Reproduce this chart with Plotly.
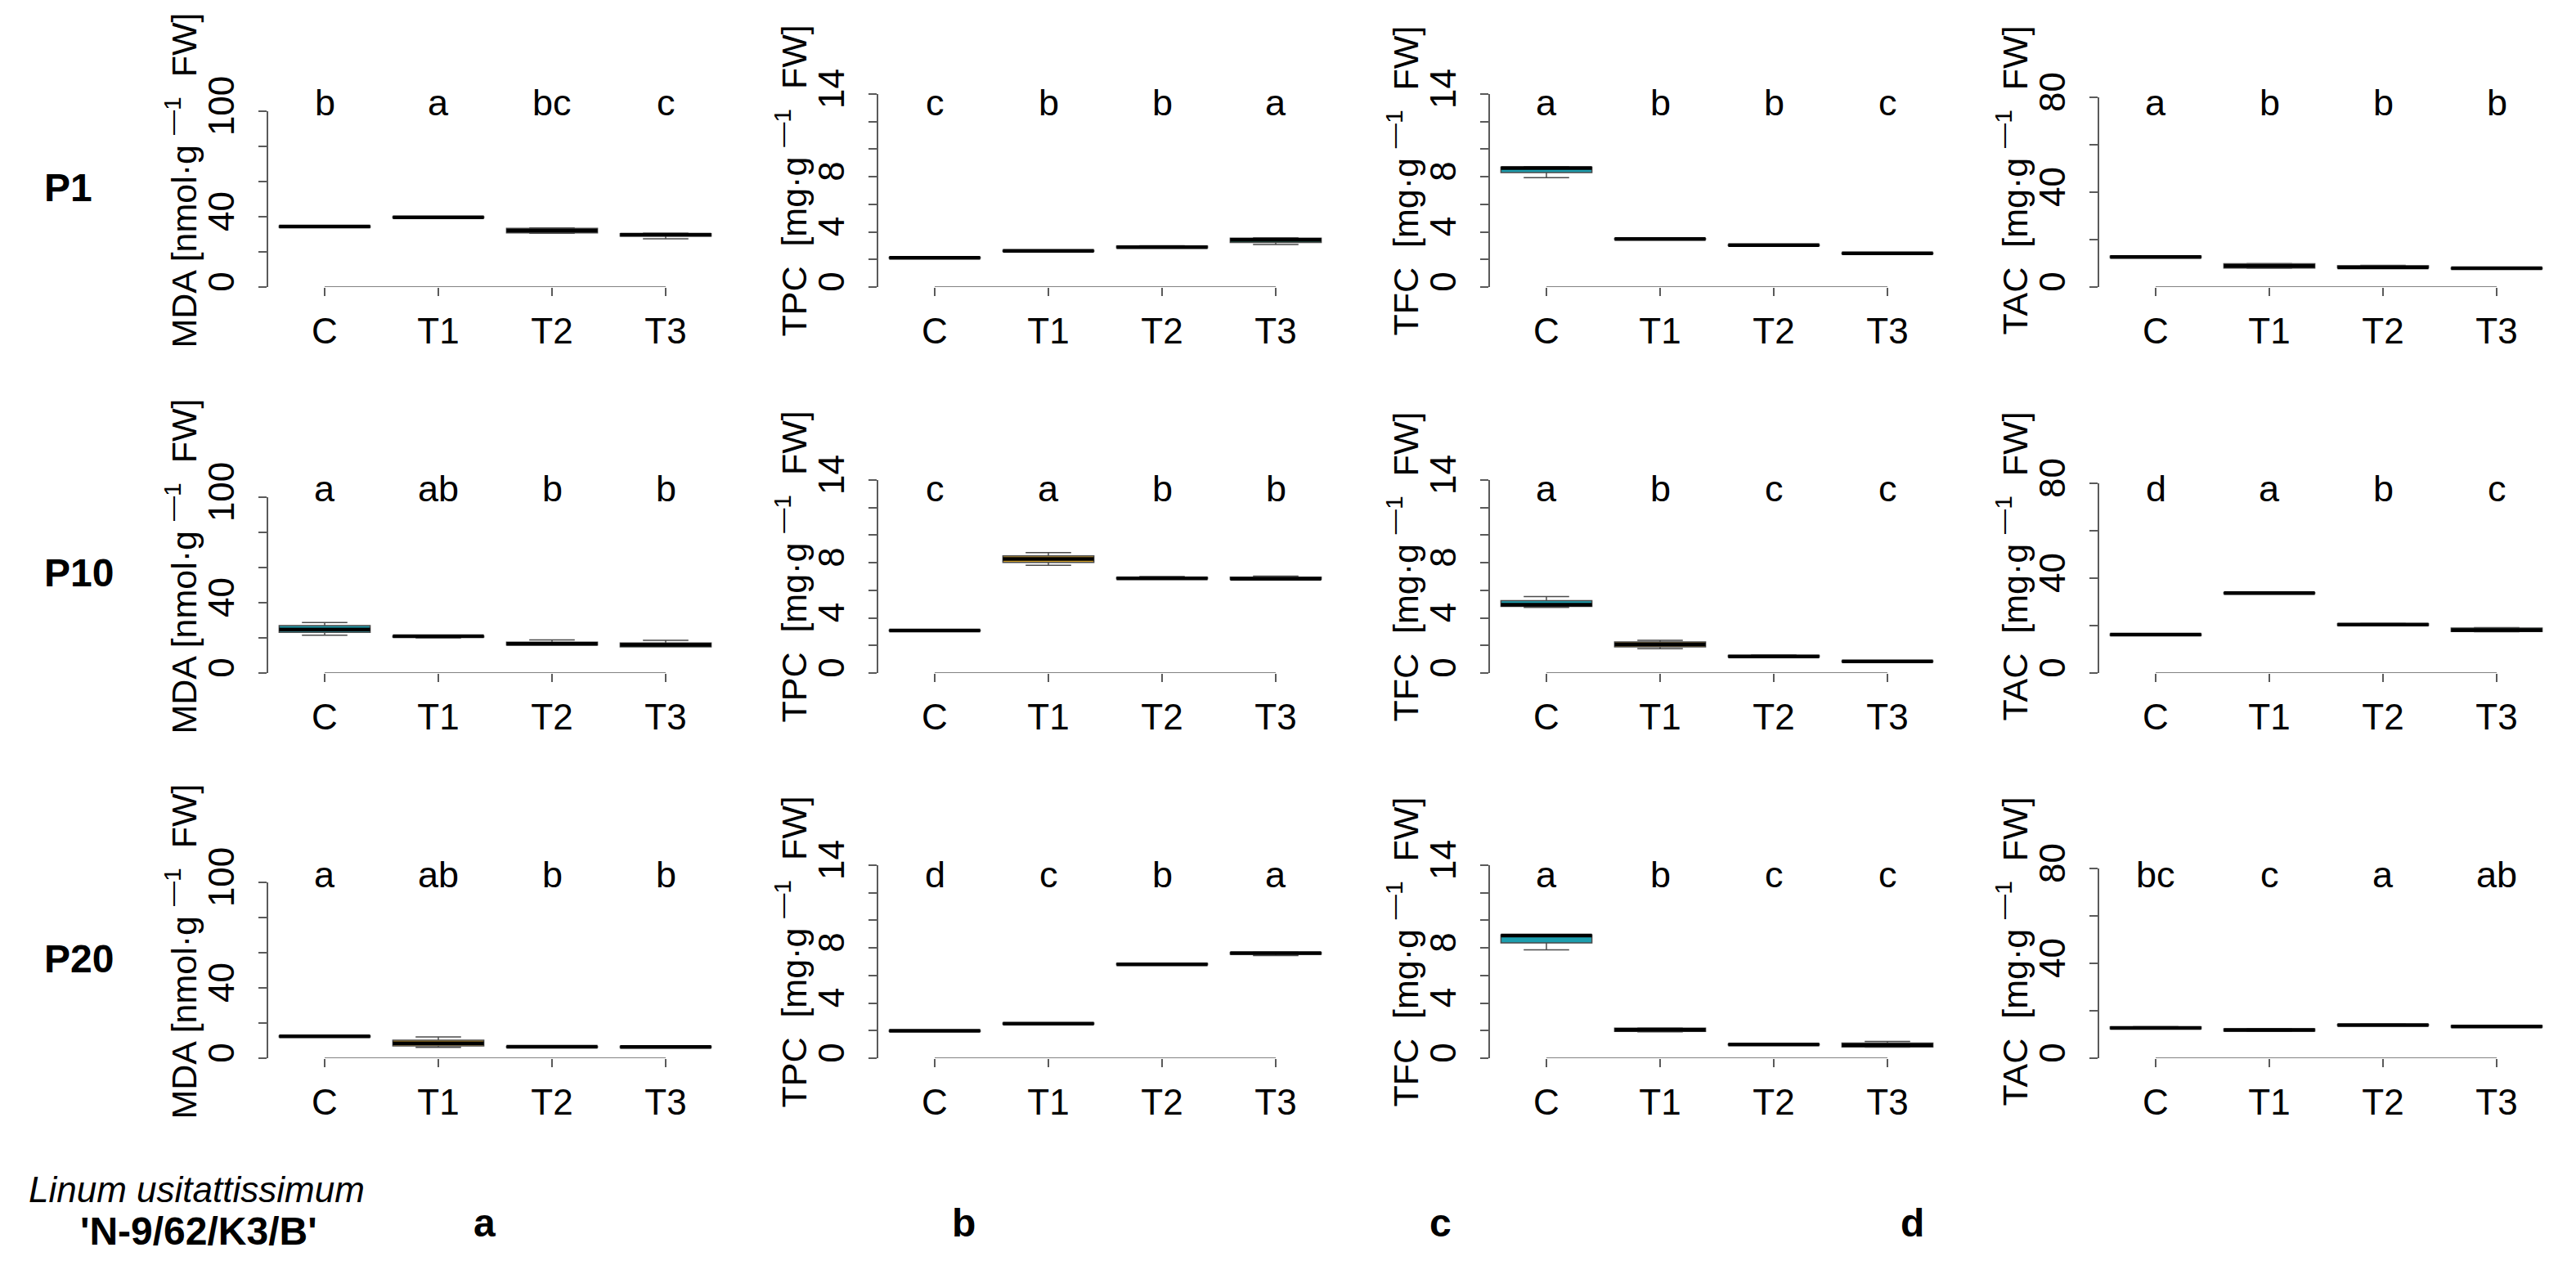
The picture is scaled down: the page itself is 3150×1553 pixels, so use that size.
import plotly.graph_objects as go

# groups / rows / traits
groups = ['C', 'T1', 'T2', 'T3']
rows = ['P1', 'P10', 'P20']
traits = ['MDA', 'TPC', 'TFC', 'TAC']

# MDA [nmol g-1 FW]
mda_med = [[34.4, 39.7, 32.1, 29.8], [24.8, 20.9, 16.6, 16.0], [12.4, 8.5, 6.5, 6.4]]
mda_q1 = [[34.0, 39.4, 30.8, 29.0], [23.1, 20.5, 15.9, 14.9], [12.1, 7.0, 6.2, 6.0]]
mda_q3 = [[34.8, 40.0, 33.4, 30.4], [27.0, 21.1, 17.6, 17.1], [12.7, 10.2, 6.8, 6.8]]
mda_lo = [[33.9, 39.3, 30.6, 27.4], [21.5, 20.0, 15.9, 14.9], [12.0, 6.2, 6.1, 5.9]]
mda_hi = [[34.9, 40.1, 33.6, 30.6], [28.7, 21.2, 18.8, 18.6], [12.8, 12.1, 6.9, 6.9]]

# TPC [mg g-1 FW]
tpc_med = [[2.12, 2.63, 2.89, 3.42], [3.08, 8.27, 6.86, 6.84], [1.98, 2.51, 6.81, 7.62]]
tpc_q1 = [[2.09, 2.60, 2.85, 3.24], [3.05, 8.02, 6.83, 6.80], [1.95, 2.48, 6.78, 7.55]]
tpc_q3 = [[2.15, 2.66, 2.96, 3.54], [3.11, 8.50, 6.92, 6.95], [2.01, 2.55, 6.86, 7.66]]
tpc_lo = [[2.08, 2.59, 2.83, 3.08], [3.04, 7.82, 6.82, 6.78], [1.94, 2.47, 6.77, 7.45]]
tpc_hi = [[2.16, 2.67, 3.00, 3.58], [3.12, 8.74, 7.00, 7.03], [2.02, 2.56, 6.90, 7.68]]

# TFC [mg g-1 FW]
tfc_med = [[8.63, 3.49, 3.04, 2.44], [4.95, 2.07, 1.20, 0.85], [8.90, 2.06, 0.99, 0.95]]
tfc_q1 = [[8.30, 3.46, 3.01, 2.41], [4.84, 1.90, 1.17, 0.83], [8.36, 1.95, 0.96, 0.81]]
tfc_q3 = [[8.69, 3.52, 3.07, 2.47], [5.25, 2.25, 1.27, 0.88], [8.95, 2.18, 1.02, 1.10]]
tfc_lo = [[7.94, 3.45, 3.00, 2.40], [4.76, 1.77, 1.15, 0.82], [7.86, 1.92, 0.95, 0.80]]
tfc_hi = [[8.72, 3.53, 3.08, 2.48], [5.55, 2.37, 1.30, 0.89], [8.97, 2.20, 1.03, 1.22]]

# TAC [mg g-1 FW]
tac_med = [[12.7, 8.9, 8.3, 7.9], [16.2, 33.7, 20.4, 18.1], [12.8, 11.9, 14.0, 13.4]]
tac_q1 = [[12.4, 8.0, 8.1, 7.7], [15.9, 33.5, 20.1, 17.5], [12.4, 11.5, 13.8, 13.1]]
tac_q3 = [[13.0, 9.8, 9.0, 8.1], [16.5, 33.9, 20.8, 19.0], [13.2, 12.3, 14.2, 13.7]]
tac_lo = [[12.3, 7.9, 8.0, 7.6], [15.8, 33.4, 20.0, 17.4], [12.3, 11.4, 13.7, 13.0]]
tac_hi = [[13.1, 9.9, 9.1, 8.2], [16.6, 34.0, 20.9, 19.1], [13.3, 12.4, 14.3, 13.8]]

# significance letters
mda_letters = [['b', 'a', 'bc', 'c'], ['a', 'ab', 'b', 'b'], ['a', 'ab', 'b', 'b']]
tpc_letters = [['c', 'b', 'b', 'a'], ['c', 'a', 'b', 'b'], ['d', 'c', 'b', 'a']]
tfc_letters = [['a', 'b', 'b', 'c'], ['a', 'b', 'c', 'c'], ['a', 'b', 'c', 'c']]
tac_letters = [['a', 'b', 'b', 'b'], ['d', 'a', 'b', 'c'], ['bc', 'c', 'a', 'ab']]

# y axis ticks
mda_ticks = [0, 20, 40, 60, 80, 100]
mda_ticktext = ['0', '', '40', '', '', '100']
mg_ticks = [0, 2, 4, 6, 8, 10, 12, 14]
mg_ticktext = ['0', '', '4', '', '8', '', '', '14']
tac_ticks = [0, 20, 40, 60, 80]
tac_ticktext = ['0', '', '40', '', '80']

ytitles = ['MDA [nmol·g <sup>—1</sup>  FW]', 'TPC  [mg·g <sup>—1</sup>  FW]',
           'TFC  [mg·g <sup>—1</sup>  FW]', 'TAC  [mg·g <sup>—1</sup>  FW]']
panel_tags = ['a', 'b', 'c', 'd']

colors = {'C': '#1d9eae', 'T1': '#d4a22a', 'T2': '#7a2e2a', 'T3': '#2e8b6e'}

stats = {
    'MDA': (mda_med, mda_q1, mda_q3, mda_lo, mda_hi, mda_letters, mda_ticks, mda_ticktext),
    'TPC': (tpc_med, tpc_q1, tpc_q3, tpc_lo, tpc_hi, tpc_letters, mg_ticks, mg_ticktext),
    'TFC': (tfc_med, tfc_q1, tfc_q3, tfc_lo, tfc_hi, tfc_letters, mg_ticks, mg_ticktext),
    'TAC': (tac_med, tac_q1, tac_q3, tac_lo, tac_hi, tac_letters, tac_ticks, tac_ticktext),
}

W, H = 3150, 1553
FONT = 'Liberation Sans, Arial, sans-serif'
AX = '#5a5a5a'

# layout in pixels
col_c = [389, 1135, 1883, 2628]     # x of first category
unit = 139                          # px between categories
row_zero = [343, 815, 1286]         # y of value 0
axis_h = {'MDA': 215, 'TPC': 236, 'TFC': 236, 'TAC': 232}


def px(x):
    return x / W


def py(y):
    return 1 - y / H


def label(x, y, text, size=44, angle=0, xanchor='center'):
    return dict(x=px(x), y=py(y), xref='paper', yref='paper', text=text, textangle=angle,
                xanchor=xanchor, yanchor='middle', showarrow=False, font=dict(size=size))


fig = go.Figure()
layout = dict(width=W, height=H, margin=dict(l=0, r=0, t=0, b=0, autoexpand=False),
              paper_bgcolor='white', plot_bgcolor='white', showlegend=False,
              boxmode='overlay', font=dict(family=FONT, size=44, color='black'))
annotations = []
shapes = []

for r, row in enumerate(rows):
    for c, tr in enumerate(traits):
        k = r * 4 + c + 1
        sx = '' if k == 1 else str(k)
        med, q1, q3, lo, hi, letters, ticks, ticktext = stats[tr]
        top = ticks[-1]

        for i, g in enumerate(groups):
            fig.add_trace(go.Box(x=[g], q1=[q1[r][i]], median=[med[r][i]], q3=[q3[r][i]],
                                 lowerfence=[lo[r][i]], upperfence=[hi[r][i]],
                                 width=0.8, whiskerwidth=0.5, fillcolor=colors[g],
                                 line=dict(color='#4a4a4a', width=1.5), boxpoints=False,
                                 xaxis='x' + sx, yaxis='y' + sx, hoverinfo='skip'))
            # thick median bar as in R boxplot
            m = med[r][i]
            fig.add_trace(go.Box(x=[g], q1=[m], median=[m], q3=[m], lowerfence=[m], upperfence=[m],
                                 width=0.8, whiskerwidth=0, fillcolor='black',
                                 line=dict(color='black', width=4.5), boxpoints=False,
                                 xaxis='x' + sx, yaxis='y' + sx, hoverinfo='skip'))
            annotations.append(dict(x=g, y=py(row_zero[r] - 225), xref='x' + sx, yref='paper',
                                    yanchor='middle', text=letters[r][i], showarrow=False,
                                    font=dict(size=45)))

        x0 = col_c[c] - unit / 2
        x1 = col_c[c] + 3 * unit + unit / 2
        y0 = row_zero[r]
        y1 = row_zero[r] - axis_h[tr]
        layout['xaxis' + sx] = dict(domain=[px(x0), px(x1)], anchor='y' + sx,
                                    type='category', categoryorder='array', categoryarray=groups,
                                    range=[-0.5, 3.5], showline=False, showgrid=False, zeroline=False,
                                    ticks='outside', ticklen=10, tickwidth=1.5, tickcolor=AX,
                                    ticklabelstandoff=5, tickfont=dict(size=44))
        layout['yaxis' + sx] = dict(domain=[py(y0), py(y1)], anchor='x' + sx,
                                    range=[0, top], showline=True, linecolor=AX, linewidth=1.5,
                                    showgrid=False, zeroline=False, ticks='outside', ticklen=10,
                                    tickwidth=1.5, tickcolor=AX, tickvals=ticks, ticktext=ticktext,
                                    tickangle=-90, ticklabelstandoff=12, tickfont=dict(size=44))
        # R-style x axis line from first to last group
        shapes.append(dict(type='line', xref='x' + sx, yref='y' + sx, x0=0, x1=3, y0=0, y1=0,
                           line=dict(color=AX, width=1.5)))
        # y axis title
        annotations.append(label(col_c[c] - unit / 2 - 106, row_zero[r] - 130, ytitles[c],
                                 size=43, angle=-90))

    annotations.append(label(44, row_zero[r] - 122, '<b>' + row + '</b>', size=48, xanchor='left'))

annotations.append(label(232, 1446, '<i>Linum usitattissimum</i>'))
annotations.append(label(235, 1497, "<b>'N-9/62/K3/B'</b>", size=48))
for x, tag in zip([584, 1170, 1754, 2330], panel_tags):
    annotations.append(label(x, 1487, '<b>' + tag + '</b>', size=48))

layout['annotations'] = annotations
layout['shapes'] = shapes
fig.update_layout(**layout)
fig.write_html('out.html')
